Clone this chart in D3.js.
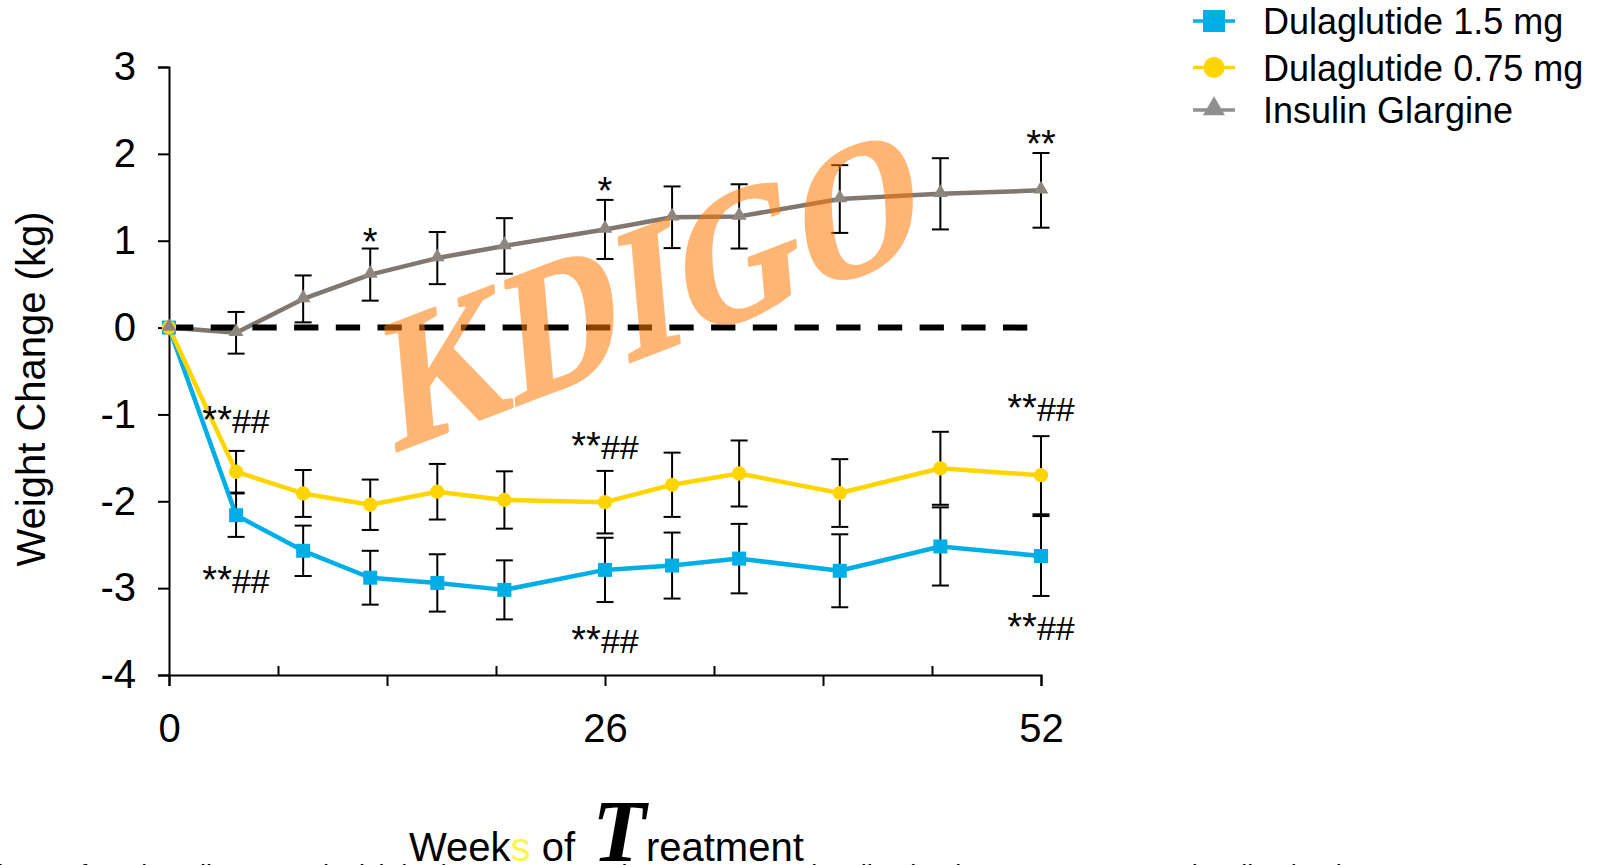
<!DOCTYPE html>
<html>
<head>
<meta charset="utf-8">
<script src="https://cdn.jsdelivr.net/npm/d3@7"></script>
<style>
  html, body { margin: 0; padding: 0; background: #ffffff; }
  svg { display: block; }
</style>
</head>
<body>
<script>
// Weeks of treatment at which weight change was measured
const weeks = [0, 4, 8, 12, 16, 20, 26, 30, 34, 40, 46, 52];

// Mean weight change from baseline (kg) and standard errors
const dula15 = [0, -2.16, -2.57, -2.88, -2.94, -3.02, -2.79, -2.74, -2.66, -2.80, -2.52, -2.63];
const dula15SE = [0, 0.25, 0.29, 0.31, 0.33, 0.34, 0.37, 0.38, 0.40, 0.42, 0.45, 0.46];
const dula075 = [0, -1.66, -1.91, -2.04, -1.89, -1.985, -2.01, -1.81, -1.68, -1.905, -1.62, -1.70];
const dula075SE = [0, 0.24, 0.27, 0.29, 0.32, 0.33, 0.36, 0.37, 0.38, 0.39, 0.42, 0.45];
const glargine = [0, -0.06, 0.33, 0.61, 0.80, 0.94, 1.13, 1.27, 1.28, 1.48, 1.54, 1.58];
const glargineSE = [0, 0.24, 0.27, 0.30, 0.30, 0.32, 0.34, 0.355, 0.37, 0.39, 0.41, 0.43];

const seriesNames = ["Dulaglutide 1.5 mg", "Dulaglutide 0.75 mg", "Insulin Glargine"];

// Axis ticks
const yTicks = [-4, -3, -2, -1, 0, 1, 2, 3];
const xMajorTicks = [0, 13, 26, 39, 52];
const xMinorTicks = [6.5, 19.5, 32.5, 45.5];
const xTickLabels = [0, 26, 52];

// Significance annotations: week, baseline position on the value axis, text
const annotWeeks = [4, 4, 26, 26, 52, 52, 12, 26, 52];
const annotValues = [-1.215, -3.06, -1.51, -3.75, -1.075, -3.60, 0.836, 1.42, 1.96];
const annotTexts = ["**##", "**##", "**##", "**##", "**##", "**##", "*", "*", "**"];

const W = 1604, H = 865;
const FONT = "'Liberation Sans', Arial, Helvetica, sans-serif";

const svg = d3.select("body").append("svg")
  .attr("width", W).attr("height", H)
  .attr("viewBox", `0 0 ${W} ${H}`);
svg.append("rect").attr("width", W).attr("height", H).attr("fill", "#ffffff");

const x = d3.scaleLinear().domain([0, 52]).range([169, 1041]);
const y = d3.scaleLinear().domain([-4, 3]).range([675, 67]);

// Y axis
const yAxis = svg.append("g")
  .attr("transform", `translate(${x(0)},0)`)
  .call(d3.axisLeft(y).tickValues(yTicks).tickSize(11).tickPadding(22).tickFormat(d => String(d)));
yAxis.select(".domain").attr("stroke", "#000").attr("stroke-width", 2);
yAxis.selectAll(".tick line").attr("stroke", "#000").attr("stroke-width", 2);
yAxis.selectAll("text").attr("font-family", FONT).attr("font-size", 40).attr("fill", "#000");

// X axis: major ticks below with sparse labels, minor ticks inside
const xAxis = svg.append("g")
  .attr("transform", `translate(0,${y(-4)})`)
  .call(d3.axisBottom(x).tickValues(xMajorTicks).tickSize(11).tickPadding(28)
    .tickFormat(d => xTickLabels.includes(d) ? String(d) : ""));
xAxis.select(".domain").attr("stroke", "#000").attr("stroke-width", 2);
xAxis.selectAll(".tick line").attr("stroke", "#000").attr("stroke-width", 2);
xAxis.selectAll("text").attr("font-family", FONT).attr("font-size", 40).attr("fill", "#000");

const xMinor = svg.append("g")
  .attr("transform", `translate(0,${y(-4)})`)
  .call(d3.axisTop(x).tickValues(xMinorTicks).tickSize(9).tickFormat(""));
xMinor.select(".domain").remove();
xMinor.selectAll(".tick line").attr("stroke", "#000").attr("stroke-width", 2);

// Axis titles
svg.append("text")
  .attr("transform", `translate(45,${(y(3) + y(-4)) / 2 + 18}) rotate(-90)`)
  .attr("text-anchor", "middle")
  .attr("font-family", FONT).attr("font-size", 40).attr("fill", "#000")
  .text("Weight Change (kg)");

const xTitle = svg.append("text")
  .attr("x", 409).attr("y", 861)
  .attr("font-family", FONT).attr("font-size", 40).attr("fill", "#000");
xTitle.append("tspan").text("Week");
xTitle.append("tspan").attr("fill", "#FFF34D").text("s");
xTitle.append("tspan").text(" of ");
xTitle.append("tspan")
  .attr("font-family", "'Liberation Serif', 'Times New Roman', serif")
  .attr("font-weight", "bold").attr("font-style", "italic")
  .attr("font-size", 88).attr("dx", 6).text("T");
xTitle.append("tspan").attr("dx", 0).text("reatment");

// Footnote line, mostly below the visible area
const foot = svg.append("text")
  .attr("y", 884)
  .attr("font-family", FONT).attr("font-size", 27).attr("fill", "#000");
foot.append("tspan").attr("x", 392).attr("text-anchor", "end")
  .text("Data are mean change from baseline to each visit");
foot.append("tspan").attr("x", 397).attr("text-anchor", "start")
  .text("(SE). *p < 0.05 and **p < 0.001 vs insulin glargine; ##p < 0.001 vs insulin glargine");

// Series definitions
const series = [
  { name: seriesNames[0], values: dula15, se: dula15SE, color: "#00AEE6", marker: "square" },
  { name: seriesNames[1], values: dula075, se: dula075SE, color: "#FFD500", marker: "circle" },
  { name: seriesNames[2], values: glargine, se: glargineSE, color: "#7F7770", markerColor: "#8E8780", marker: "triangle" }
];

const plot = svg.append("g");

// Error bars
series.forEach(s => {
  const g = plot.append("g");
  weeks.forEach((w, i) => {
    if (s.se[i] <= 0) return;
    const cx = x(w), y1 = y(s.values[i] + s.se[i]), y2 = y(s.values[i] - s.se[i]);
    g.append("line").attr("x1", cx).attr("x2", cx).attr("y1", y1).attr("y2", y2)
      .attr("stroke", "#000").attr("stroke-width", 2);
    [y1, y2].forEach(yy => g.append("line")
      .attr("x1", cx - 8.5).attr("x2", cx + 8.5).attr("y1", yy).attr("y2", yy)
      .attr("stroke", "#000").attr("stroke-width", 2));
  });
});

// Lines
const line = d3.line().x((d, i) => x(weeks[i])).y(d => y(d));
series.forEach(s => {
  plot.append("path").datum(s.values)
    .attr("d", line)
    .attr("fill", "none")
    .attr("stroke", s.color)
    .attr("stroke-width", 4.5)
    .attr("stroke-linejoin", "round");
});

// Zero reference line
plot.append("line")
  .attr("x1", x(0)).attr("x2", x(52)).attr("y1", y(0)).attr("y2", y(0))
  .attr("stroke", "#000").attr("stroke-width", 6)
  .attr("stroke-dasharray", "24.3,17.4");

// Markers
const sym = {
  square: d3.symbol().type(d3.symbolSquare).size(196),
  circle: d3.symbol().type(d3.symbolCircle).size(160),
  triangle: d3.symbol().type(d3.symbolTriangle).size(95)
};
series.forEach(s => {
  plot.append("g").selectAll("path").data(s.values).join("path")
    .attr("d", sym[s.marker]())
    .attr("transform", (d, i) => `translate(${x(weeks[i])},${y(d) + (s.marker === "triangle" ? -1 : 0)})`)
    .attr("fill", s.markerColor || s.color);
});

// Significance annotations (asterisks set slightly larger than hashes)
annotTexts.forEach((t, i) => {
  const txt = plot.append("text")
    .attr("x", x(annotWeeks[i])).attr("y", y(annotValues[i]))
    .attr("text-anchor", "middle")
    .attr("font-family", FONT).attr("font-size", 34).attr("fill", "#000");
  const stars = t.replace(/#/g, "");
  const hashes = t.replace(/\*/g, "");
  txt.append("tspan").attr("font-size", 38).text(stars);
  if (hashes) txt.append("tspan").text(hashes);
});

// Legend
const legendRows = [21, 67.5, 110];
const legendColors = ["#00AEE6", "#FFD500", "#8F8F8F"];
const legendSym = [
  d3.symbol().type(d3.symbolSquare).size(484),
  d3.symbol().type(d3.symbolCircle).size(346),
  d3.symbol().type(d3.symbolTriangle).size(210)
];
const legend = svg.append("g");
seriesNames.forEach((name, i) => {
  const cy = legendRows[i];
  legend.append("line").attr("x1", 1193).attr("x2", 1235).attr("y1", cy).attr("y2", cy)
    .attr("stroke", legendColors[i]).attr("stroke-width", 3.5);
  legend.append("path").attr("d", legendSym[i]())
    .attr("transform", `translate(1214,${cy + (i === 2 ? -1 : 0)})`)
    .attr("fill", legendColors[i]);
  legend.append("text").attr("x", 1263).attr("y", cy + 13)
    .attr("font-family", FONT).attr("font-size", 36).attr("fill", "#000")
    .text(name);
});

// Watermark: slanted serif lettering laid over the plot
svg.append("g")
  .attr("opacity", 0.54)
  .append("text")
  .attr("transform", "matrix(0.81,-0.31,0.09,0.996,394,452)")
  .attr("font-family", "'Liberation Serif', 'Times New Roman', serif")
  .attr("font-weight", "bold")
  .attr("font-size", 190)
  .attr("fill", "#FF7A00")
  .attr("stroke", "#FF7A00")
  .attr("stroke-width", 3)
  .attr("stroke-linejoin", "round")
  .text("KDIGO");
</script>
</body>
</html>
